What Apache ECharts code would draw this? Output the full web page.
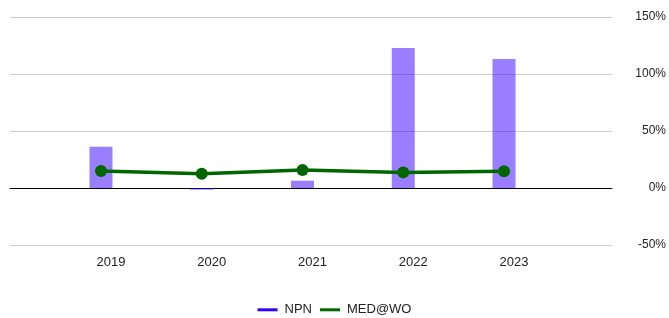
<html>
<head>
	<title>echart</title>
	<script type="text/javascript" src="https://cdn.jsdelivr.net/npm/echarts@6/dist/echarts.min.js"></script>
</head>
<body style="margin:0">
<div id="container" style="width:669px;height:318px"></div>
<script type="text/javascript">
    var years = ['2019', '2020', '2021', '2022', '2023'];
    var npn = [36.2, -1.5, 6.4, 122.8, 113.2];
    var medwo = [14.9, 12.5, 15.8, 13.7, 14.6];
    var yTicks = [-50, 0, 50, 100, 150];

    var font = '"Liberation Sans", Arial, sans-serif';
    var myChart = echarts.init(document.getElementById('container'));

    var option = {
        animation: false,
        textStyle: {fontFamily: font},
        grid: [
            // wide grid: gridlines + right axis
            {left: 10, right: 55, top: 17, bottom: 73},
            // data grid
            {left: 50.6, right: 114.6, top: 17, bottom: 73}
        ],
        legend: {
            bottom: -8,
            left: 'center',
            icon: 'rect',
            itemWidth: 20,
            itemHeight: 3,
            itemGap: 8,
            textStyle: {fontFamily: font, fontSize: 13, color: '#222', padding: [0, 0, 0, 2]},
            data: [{name: 'NPN', itemStyle: {opacity: 1}}, 'MED@WO']
        },
        xAxis: [
            {
                type: 'value', gridIndex: 0, min: 0, max: 1,
                axisLine: {show: true, onZero: true, lineStyle: {color: '#000', width: 1}},
                axisTick: {show: false}, axisLabel: {show: false}, splitLine: {show: false}
            },
            {
                type: 'category', gridIndex: 1, data: years,
                axisLine: {show: false}, axisTick: {show: false}, splitLine: {show: false},
                axisLabel: {
                    margin: 6, fontSize: 13, color: '#222', fontFamily: font,
                    padding: [0, 0, 0, 20]
                }
            }
        ],
        yAxis: [
            {
                type: 'value', gridIndex: 0, position: 'right',
                min: yTicks[0], max: yTicks[yTicks.length - 1], interval: 50,
                axisLine: {show: false}, axisTick: {show: false},
                axisLabel: {
                    align: 'right', margin: 54, fontSize: 12, color: '#222', fontFamily: font,
                    padding: [4, 0, 0, 0],
                    formatter: function (v) { return v + '%'; }
                },
                splitLine: {lineStyle: {color: '#cccccc', width: 1}}
            },
            {
                type: 'value', gridIndex: 1, show: false,
                min: yTicks[0], max: yTicks[yTicks.length - 1], interval: 50
            }
        ],
        series: [
            {
                name: 'NPN', type: 'bar', xAxisIndex: 1, yAxisIndex: 1,
                data: npn, barWidth: 23,
                itemStyle: {color: '#3300ff', opacity: 0.5}
            },
            {
                name: 'MED@WO', type: 'line', xAxisIndex: 1, yAxisIndex: 1,
                data: medwo, symbol: 'circle', symbolSize: 12,
                lineStyle: {color: '#006600', width: 3.5},
                itemStyle: {color: '#006600'}, z: 5
            }
        ]
    };
    myChart.setOption(option);
</script>
</body>
</html>
